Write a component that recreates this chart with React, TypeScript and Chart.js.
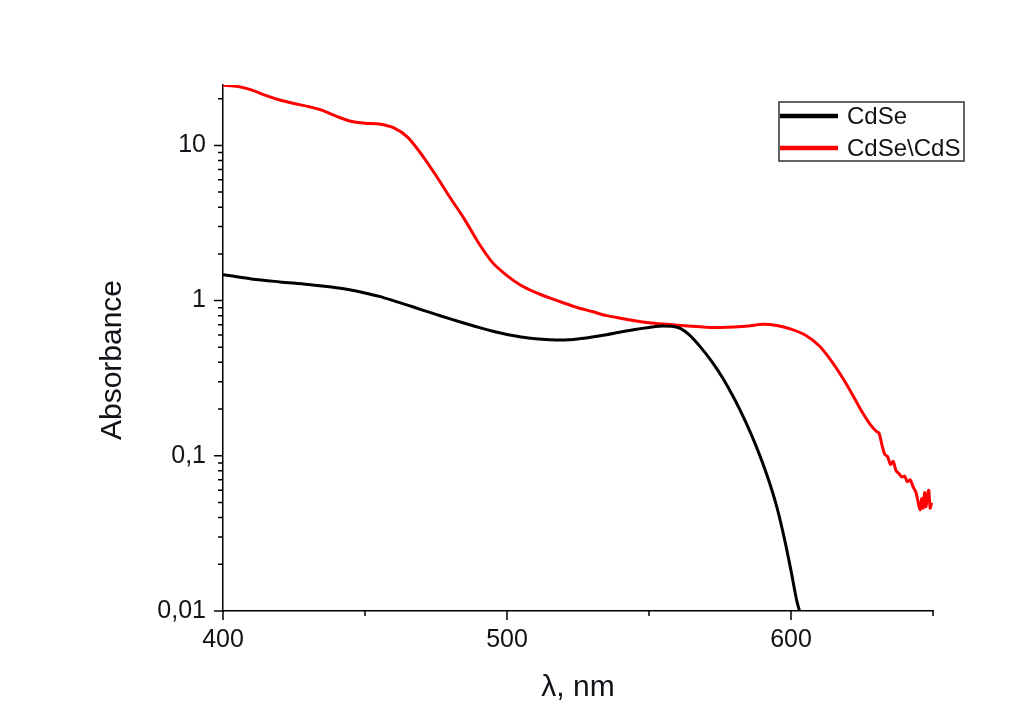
import { useEffect, useRef } from 'react';
import { Chart, registerables } from 'chart.js';
import type { Plugin } from 'chart.js';

Chart.register(...registerables);

// CdSe\CdS core/shell spectrum
const shellWavelengths = [
    400, 405, 410, 415, 420, 425, 430, 435, 440, 445, 450, 455, 460, 465, 470, 475, 480, 485, 490, 495,
    500, 505, 510, 515, 520, 525, 530, 535, 540, 545, 550, 555, 560, 565, 570, 575, 580, 585, 590, 595,
    600, 605, 610, 615, 620, 625, 628, 630, 631, 632, 633, 634, 635, 636, 637, 638, 639, 640, 641, 642,
    643, 644, 645, 645.5, 646, 646.5, 647, 647.5, 648, 648.5, 649, 649.5,
];
const shellAbsorbance = [
    24.4, 24.0, 22.8, 21.0, 19.6, 18.6, 17.8, 16.8, 15.4, 14.3, 13.9, 13.75, 13.0, 11.3, 8.7, 6.4, 4.6, 3.35, 2.35, 1.75,
    1.45, 1.25, 1.13, 1.04, 0.965, 0.9, 0.85, 0.8, 0.77, 0.742, 0.72, 0.706, 0.695, 0.683, 0.674, 0.672, 0.676, 0.686, 0.705, 0.692,
    0.655, 0.6, 0.51, 0.39, 0.28, 0.192, 0.158, 0.144, 0.14, 0.118, 0.102, 0.099, 0.088, 0.092, 0.08, 0.077, 0.073, 0.074, 0.068, 0.07,
    0.063, 0.058, 0.048, 0.045, 0.053, 0.046, 0.058, 0.047, 0.055, 0.06, 0.046, 0.05,
];

// CdSe core spectrum
const coreWavelengths = [
    400, 410, 420, 430, 440, 445, 450, 455, 460, 465, 470, 475, 480, 485, 490, 495, 500, 505, 510, 515,
    520, 525, 530, 535, 540, 545, 550, 555, 558, 561, 564, 568, 572, 576, 580, 584, 588, 592, 595, 598,
    600, 602, 603.5,
];
const coreAbsorbance = [
    1.47, 1.38, 1.32, 1.27, 1.21, 1.17, 1.12, 1.065, 1.0, 0.935, 0.872, 0.815, 0.762, 0.715, 0.672, 0.635, 0.605, 0.583, 0.568, 0.56,
    0.558, 0.566, 0.582, 0.603, 0.628, 0.652, 0.672, 0.686, 0.684, 0.662, 0.605, 0.505, 0.407, 0.316, 0.234, 0.166, 0.112, 0.0708, 0.0468, 0.0275,
    0.0182, 0.0117, 0.0093,
];

const xMajorTicks = [400, 500, 600];
const xMinorTicks = [450, 550, 650];
const yMajorTicks = [0.01, 0.1, 1, 10];
const yMinorTicks = [
    0.02, 0.03, 0.04, 0.05, 0.06, 0.07, 0.08, 0.09,
    0.2, 0.3, 0.4, 0.5, 0.6, 0.7, 0.8, 0.9,
    2, 3, 4, 5, 6, 7, 8, 9, 20,
];

const FONT = "'Liberation Sans', Arial, sans-serif";
const TEXT = '#111118';

const toPoints = (xs: number[], ys: number[]) => xs.map((x, i) => ({ x, y: ys[i] }));
const fmtComma = (v: number) => String(v).replace('.', ',');

// draws tick marks, axis titles and the boxed legend
const decorations: Plugin<'line'> = {
    id: 'decorations',
    afterDraw(chart) {
        const { ctx, chartArea: ca } = chart;
        const xs = chart.scales.x;
        const ys = chart.scales.y;
        ctx.save();
        ctx.strokeStyle = '#000';
        ctx.lineWidth = 1.5;
        ctx.beginPath();
        const xTick = (v: number, len: number) => {
            const px = xs.getPixelForValue(v);
            ctx.moveTo(px, ca.bottom);
            ctx.lineTo(px, ca.bottom + len);
        };
        const yTick = (v: number, len: number) => {
            const py = ys.getPixelForValue(v);
            ctx.moveTo(ca.left, py);
            ctx.lineTo(ca.left - len, py);
        };
        xMajorTicks.forEach((v) => xTick(v, 9));
        xMinorTicks.forEach((v) => xTick(v, 5));
        yMajorTicks.forEach((v) => yTick(v, 9));
        yMinorTicks.forEach((v) => yTick(v, 5));
        ctx.stroke();

        // axis titles
        ctx.fillStyle = TEXT;
        ctx.font = `30px ${FONT}`;
        ctx.textAlign = 'center';
        ctx.textBaseline = 'middle';
        ctx.fillText('λ, nm', (ca.left + ca.right) / 2, ca.bottom + 77);
        ctx.save();
        ctx.translate(ca.left - 110, ca.bottom - 251);
        ctx.rotate(-Math.PI / 2);
        ctx.fillText('Absorbance', 0, 0);
        ctx.restore();

        // legend
        const lx = ca.right - 154;
        const ly = ca.top + 17;
        ctx.strokeStyle = '#333';
        ctx.lineWidth = 1.5;
        ctx.strokeRect(lx, ly, 185, 59);
        ctx.font = `24px ${FONT}`;
        ctx.textAlign = 'left';
        chart.data.datasets.forEach((ds, i) => {
            const yy = ly + 14 + i * 32;
            ctx.strokeStyle = ds.borderColor as string;
            ctx.lineWidth = 4.5;
            ctx.beginPath();
            ctx.moveTo(lx + 1, yy);
            ctx.lineTo(lx + 59, yy);
            ctx.stroke();
            ctx.fillStyle = TEXT;
            ctx.fillText(ds.label ?? '', lx + 68, yy + 1);
        });
        ctx.restore();
    },
};

const App = () => {
    const chartRef = useRef<HTMLCanvasElement | null>(null);

    useEffect(() => {
        const ctx = chartRef.current?.getContext('2d');
        if (!ctx) return;

        const chart = new Chart(ctx, {
            type: 'line',
            data: {
                datasets: [
                    {
                        label: 'CdSe',
                        data: toPoints(coreWavelengths, coreAbsorbance),
                        borderColor: '#000000',
                        borderWidth: 3,
                        pointRadius: 0,
                        cubicInterpolationMode: 'monotone',
                    },
                    {
                        label: 'CdSe\\CdS',
                        data: toPoints(shellWavelengths, shellAbsorbance),
                        borderColor: '#ff0000',
                        borderWidth: 3,
                        pointRadius: 0,
                        tension: 0.25,
                    },
                ],
            },
            options: {
                animation: false,
                responsive: true,
                maintainAspectRatio: false,
                layout: { padding: { left: 0, top: 85, right: 91, bottom: 0 } },
                plugins: {
                    legend: { display: false },
                    tooltip: { enabled: false },
                },
                scales: {
                    x: {
                        type: 'linear',
                        min: 400,
                        max: 650,
                        afterFit: (scale) => { scale.height = 109; },
                        afterBuildTicks: (scale) => { scale.ticks = xMajorTicks.map((value) => ({ value })); },
                        grid: { display: false, drawTicks: false },
                        border: { display: true, color: '#000', width: 1.5 },
                        ticks: {
                            autoSkip: false,
                            maxRotation: 0,
                            padding: 14,
                            color: TEXT,
                            font: { family: FONT, size: 25 },
                            callback: (v) => String(v),
                        },
                    },
                    y: {
                        type: 'logarithmic',
                        min: 0.01,
                        max: 24.5,
                        afterFit: (scale) => { scale.width = 223; },
                        afterBuildTicks: (scale) => { scale.ticks = yMajorTicks.map((value) => ({ value })); },
                        grid: { display: false, drawTicks: false },
                        border: { display: true, color: '#000', width: 1.5 },
                        ticks: {
                            autoSkip: false,
                            padding: 17,
                            color: TEXT,
                            font: { family: FONT, size: 25 },
                            callback: (v) => fmtComma(Number(v)),
                        },
                    },
                },
            },
            plugins: [decorations],
        });

        return () => {
            chart.destroy();
        };
    }, []);

    return (
        <div style={{ position: 'fixed', left: 0, top: 0, width: 1024, height: 720, background: '#fff' }}>
            <canvas ref={chartRef}></canvas>
        </div>
    );
};

export default App;
